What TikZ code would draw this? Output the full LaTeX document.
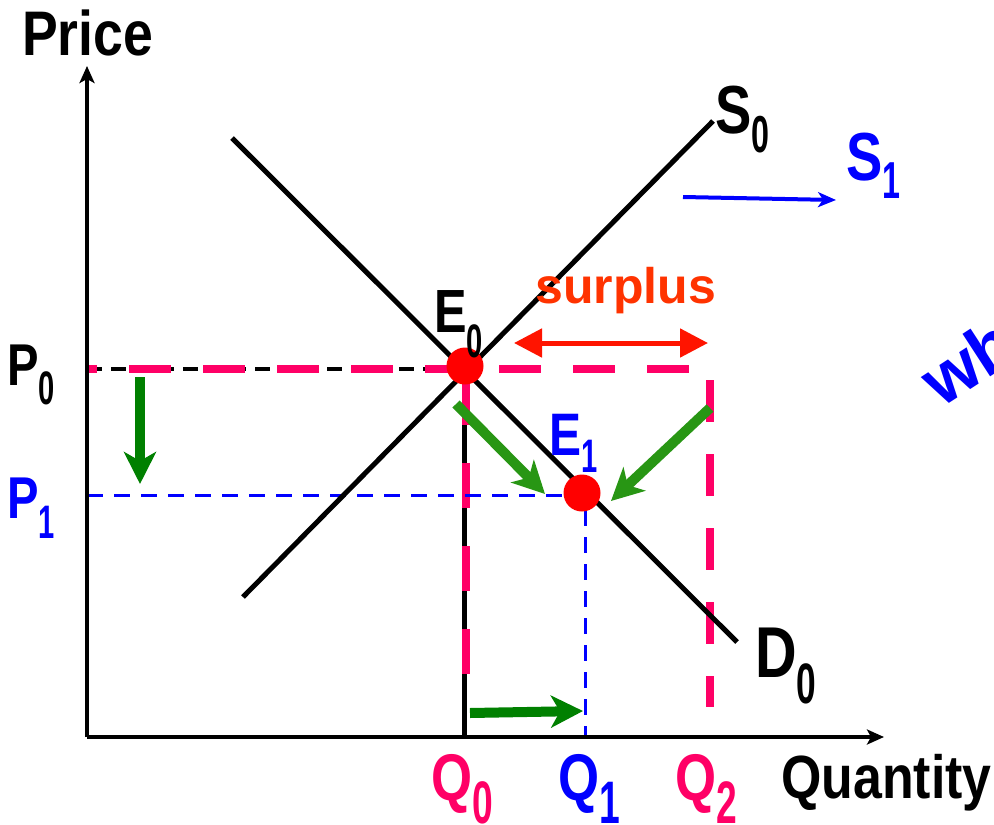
\documentclass[tikz,border=0pt]{standalone}
\usepackage{fontspec}
\setmainfont{Liberation Sans}
\newfontfamily\fmain[FakeStretch=0.8]{Liberation Sans Bold}
\newfontfamily\fwide[FakeStretch=0.85]{Liberation Sans Bold}
\newfontfamily\fsub[FakeStretch=0.62]{Liberation Sans Bold}
\newfontfamily\fplain{Liberation Sans Bold}
\usetikzlibrary{arrows.meta}
\definecolor{pinkq}{RGB}{255,0,102}
\definecolor{blueq}{RGB}{0,0,255}
\definecolor{greenA}{RGB}{0,128,0}
\definecolor{greenB}{RGB}{40,150,20}
\definecolor{surpl}{RGB}{255,51,0}
\definecolor{redarr}{RGB}{255,20,0}
\newcommand\lbl[5]{{\fontsize{#2pt}{#2pt}\fmain #1}\raisebox{-#5pt}{\fontsize{#4pt}{#4pt}\fsub #3}}
\tikzset{
  curve/.style={line width=5pt, black},
  axis/.style={line width=3.5pt, black, -{Stealth[length=17pt,width=15pt,inset=4pt]}},
  pinkdash/.style={pinkq, line width=8pt, dash pattern=on 42pt off 32pt, dash phase=32pt},
  blackdash/.style={black, line width=4pt, dash pattern=on 15pt off 9pt},
  bluedash/.style={blueq, line width=3pt, dash pattern=on 16pt off 11pt},
  greenarrow/.style={line width=10pt, -{Stealth[length=32pt,width=32pt,inset=9pt]}},
  dot/.style={circle, fill=red, minimum size=37pt, inner sep=0pt},
  lab/.style={inner sep=0pt, anchor=base west},
}
\begin{document}
\begin{tikzpicture}[x=1pt,y=-1pt]
\useasboundingbox[fill=white] (0,0) rectangle (994,825);
% coordinates
\coordinate (O) at (87,737);
\coordinate (ytop) at (87,66);
\coordinate (xend) at (884,737);
\coordinate (Sa) at (243,597);
\coordinate (Sb) at (713,121);
\coordinate (Da) at (232,138);
\coordinate (Db) at (737,642);
\coordinate (P0l) at (87,369);
\coordinate (P0r) at (464,369);
\coordinate (corner) at (710,369);
\coordinate (Q2b) at (710,707);
\coordinate (Q0t) at (466,380);
\coordinate (Q0b) at (466,707);
\coordinate (Q0k) at (464,737);
\coordinate (P1l) at (87,495);
\coordinate (P1r) at (566,495);
\coordinate (Q1t) at (585,510);
\coordinate (Q1b) at (585,737);
% dashed guides
\draw[blackdash] (P0l) -- (P0r);
\draw[line width=5pt] (P0r) -- (Q0k);
\draw[pinkdash] (P0l) -- (corner) -- (Q2b);
\draw[pinkq, line width=8pt, dash pattern=on 45pt off 38pt] (Q0t) -- (Q0b);
\draw[bluedash] (P1l) -- (P1r);
\draw[bluedash] (Q1t) -- (Q1b);
% axes
\draw[axis] (O) -- (ytop);
\draw[axis] (O) -- (xend);
% curves
\draw[curve] (Sa) -- (Sb);
\draw[curve] (Da) -- (Db);
% equilibrium dots
\node[dot] (E0) at (465,366) {};
\node[dot] (E1) at (582,493) {};
% green arrows
\coordinate (g1a) at (140,377);
\coordinate (g1b) at (140,484);
\coordinate (g2a) at (456,404);
\coordinate (g2b) at (545,494);
\coordinate (g3a) at (710,408);
\coordinate (g3b) at (611,501);
\coordinate (g4a) at (470,713);
\coordinate (g4b) at (583,711);
\draw[greenarrow, greenA] (g1a) -- (g1b);
\draw[greenarrow, greenB] (g2a) -- (g2b);
\draw[greenarrow, greenB] (g3a) -- (g3b);
\draw[greenarrow, greenA] (g4a) -- (g4b);
% surplus arrow
\coordinate (sl) at (514,343);
\coordinate (sr) at (708,343);
\draw[redarr, line width=5pt, {Triangle[length=28pt,width=28pt]}-{Triangle[length=28pt,width=28pt]}] (sl) -- (sr);
\node[lab, surpl] (surplus) at (535,303) {\fontsize{50pt}{50pt}\fplain surplus};
% shift arrow
\coordinate (ba) at (683,197);
\coordinate (bb) at (836,200);
\draw[blueq, line width=4pt, -{Stealth[length=18pt,width=15pt,inset=5pt]}] (ba) -- (bb);
% axis titles
\node[lab] (price) at (22,55) {\fontsize{63pt}{63pt}\fwide Price};
\node[lab] (quantity) at (781,798) {\fontsize{61pt}{61pt}\fwide Quantity};
% labels
\node[lab] (S0) at (715,133) {\lbl{S}{68}{0}{52}{19}};
\node[lab, blueq] (S1) at (846,180) {\lbl{S}{68}{1}{52}{18}};
\node[lab] (D0) at (755,677) {\lbl{D}{72}{0}{57}{26}};
\node[lab] (E0l) at (434,332) {\lbl{E}{61}{0}{47}{25}};
\node[lab, blueq] (E1l) at (549,455) {\lbl{E}{60}{1}{47}{17}};
\node[lab] (P0) at (7,385) {\lbl{P}{59}{0}{47}{19}};
\node[lab, blueq] (P1) at (7,518) {\lbl{P}{59}{1}{47}{20}};
\node[lab, pinkq] (Q0) at (431,800) {\lbl{Q}{66}{0}{60}{23}};
\node[lab, blueq] (Q1) at (558,800) {\lbl{Q}{66}{1}{60}{23}};
\node[lab, pinkq] (Q2) at (675,800) {\lbl{Q}{66}{2}{60}{23}};
% cut-off rotated note
\node[lab, blueq, rotate=33] (wh) at (941,409) {\fontsize{70pt}{70pt}\fplain wh};
\end{tikzpicture}
\end{document}
